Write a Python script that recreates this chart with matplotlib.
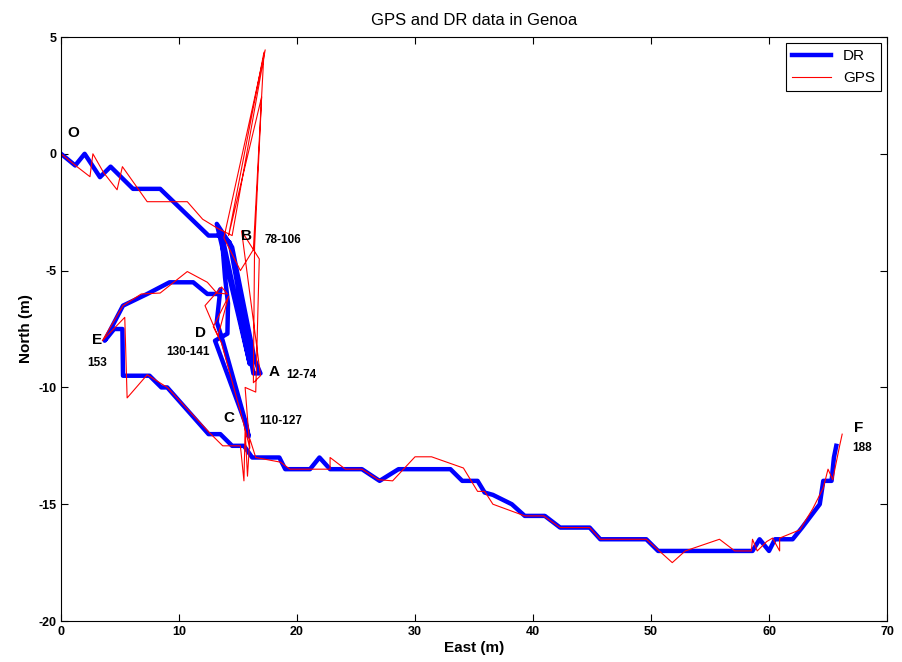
"""
GPS and DR trajectories in Genoa
"""
import matplotlib
matplotlib.use("Agg")
import matplotlib.pyplot as plt

# dead reckoning track (east, north) in metres
dr_east = [0.0, 1.2, 2.0, 3.3, 4.2, 6.1, 8.4, 12.5, 13.5, 14.3, 16.3, 16.9,
           16.4, 14.5, 13.2, 16.0, 13.6, 13.9, 14.15, 14.1, 13.05, 15.6, 15.9,
           15.7, 13.7, 13.2, 13.5, 13.3, 12.4, 11.2, 9.2, 7.3, 5.25, 3.7, 4.5,
           5.2, 5.25, 7.5, 8.5, 9.0, 12.5, 13.5, 14.5, 15.5, 16.2, 18.5, 19.0,
           21.1, 21.9, 22.8, 25.5, 27.0, 28.6, 33.0, 34.0, 35.3, 35.9, 36.6,
           38.2, 39.3, 41.0, 42.3, 44.8, 45.7, 49.6, 50.6, 58.6, 59.2, 60.0,
           60.5, 62.0, 62.8, 64.3, 64.6, 65.3, 65.5, 65.7]
dr_north = [0.0, -0.5, 0.0, -1.0, -0.55, -1.5, -1.5, -3.5, -3.5, -3.8, -9.4,
            -9.4, -8.8, -4.0, -3.0, -9.0, -3.4, -5.3, -6.4, -7.7, -8.0, -11.5,
            -12.1, -11.6, -8.0, -7.2, -5.8, -6.0, -6.0, -5.5, -5.5, -6.0, -6.5,
            -8.0, -7.5, -7.5, -9.5, -9.5, -10.0, -10.0, -12.0, -12.0, -12.5,
            -12.5, -13.0, -13.0, -13.5, -13.5, -13.0, -13.5, -13.5, -14.0,
            -13.5, -13.5, -14.0, -14.0, -14.5, -14.6, -15.0, -15.5, -15.5,
            -16.0, -16.0, -16.5, -16.5, -17.0, -17.0, -16.5, -17.0, -16.5,
            -16.5, -16.0, -15.0, -14.0, -14.0, -13.0, -12.5]

# GPS fixes (east, north) in metres
gps_east = [0.0, 1.35, 2.45, 2.7, 3.6, 4.75, 5.2, 7.3, 10.7, 12.0, 13.3,
            14.5, 17.3, 13.8, 15.2, 16.3, 17.2, 14.2, 17.0, 16.4, 16.3, 16.9,
            16.6, 15.3, 16.8, 16.5, 15.6, 16.0, 15.4, 13.6, 12.9, 14.2, 13.3,
            12.2, 13.6, 14.1, 13.2, 12.4, 10.7, 8.4, 6.8, 5.25, 3.5, 5.4, 5.6,
            7.3, 9.0, 12.6, 13.7, 15.2, 15.5, 15.6, 15.8, 16.0, 16.5, 18.6,
            19.4, 22.8, 22.8, 24.1, 25.5, 26.9, 28.1, 30.0, 31.4, 34.1, 35.3,
            35.9, 36.6, 39.3, 40.9, 42.3, 44.8, 45.7, 49.6, 51.8, 52.9, 55.8,
            57.1, 58.5, 58.6, 59.0, 59.8, 60.3, 60.9, 60.9, 62.6, 63.7, 64.6,
            65.0, 65.4, 66.0, 66.2]
gps_north = [0.0, -0.55, -0.98, 0.0, -0.8, -1.54, -0.55, -2.05, -2.05, -2.8,
             -3.2, -3.5, 4.45, -3.6, -5.0, -4.1, 4.35, -3.5, 2.44, -4.0, -9.8,
             -9.5, -8.3, -3.3, -4.5, -10.2, -10.0, -12.6, -11.4, -8.1, -7.4,
             -6.1, -7.8, -6.5, -5.7, -6.0, -5.96, -5.5, -5.04, -5.96, -6.0,
             -6.5, -8.0, -7.0, -10.45, -9.46, -10.0, -11.95, -12.5, -12.5,
             -14.0, -11.8, -13.8, -12.2, -13.0, -13.2, -13.5, -13.5, -13.0,
             -13.5, -13.5, -13.95, -14.0, -12.97, -12.97, -13.45, -14.45,
             -14.45, -15.0, -15.5, -15.5, -16.0, -16.0, -16.5, -16.5, -17.5,
             -17.0, -16.5, -17.0, -17.0, -16.5, -17.0, -16.6, -16.45, -17.0,
             -16.45, -16.1, -15.2, -14.3, -13.5, -13.95, -12.46, -12.0]

# point labels: letter, east, north
marks = [("O", 1.0, 0.9), ("B", 15.7, -3.5), ("D", 11.8, -7.66),
         ("E", 3.05, -7.96), ("A", 18.05, -9.33), ("C", 14.2, -11.3),
         ("F", 67.6, -11.73)]
# sample ranges: text, east, north
ranges = [("78-106", 18.8, -3.7), ("130-141", 10.8, -8.5), ("153", 3.05, -8.95),
          ("12-74", 20.4, -9.46), ("110-127", 18.6, -11.43), ("188", 67.9, -12.6)]

plt.rcParams["font.family"] = ["Liberation Sans", "DejaVu Sans"]
plt.rcParams["axes.unicode_minus"] = False

fig = plt.figure(figsize=(9.03, 6.62), dpi=100)
ax = fig.add_axes([0.0676, 0.0619, 0.9147, 0.8822])

ax.plot(dr_east, dr_north, color="#0000ff", lw=3.2, label="DR",
        solid_joinstyle="round")
ax.plot(gps_east, gps_north, color="#ff0000", lw=0.8, label="GPS")

for txt, x, y in marks:
    ax.text(x, y, txt, fontsize=11, fontweight="bold", ha="center", va="center")
for txt, x, y in ranges:
    ax.text(x, y, txt, fontsize=8.5, fontweight="bold", ha="center", va="center")

ax.set_xlim(0, 70)
ax.set_ylim(-20, 5)
ax.set_xticks(range(0, 71, 10))
ax.set_yticks(range(-20, 6, 5))
ax.tick_params(direction="in", top=True, right=True, length=5, labelsize=9)
for lab in ax.get_xticklabels() + ax.get_yticklabels():
    lab.set_fontweight("bold")

ax.set_title("GPS and DR data in Genoa", fontsize=12, pad=9)
ax.set_xlabel("East (m)", fontsize=11, fontweight="bold", labelpad=2)
ax.set_ylabel("North (m)", fontsize=11, fontweight="bold", labelpad=4)

leg = ax.legend(loc="upper right", fontsize=11, fancybox=False,
                edgecolor="black", framealpha=1, handlelength=2.5,
                borderaxespad=0.4)
leg.get_frame().set_linewidth(0.8)

plt.savefig("out.png", dpi=100)
plt.close()
